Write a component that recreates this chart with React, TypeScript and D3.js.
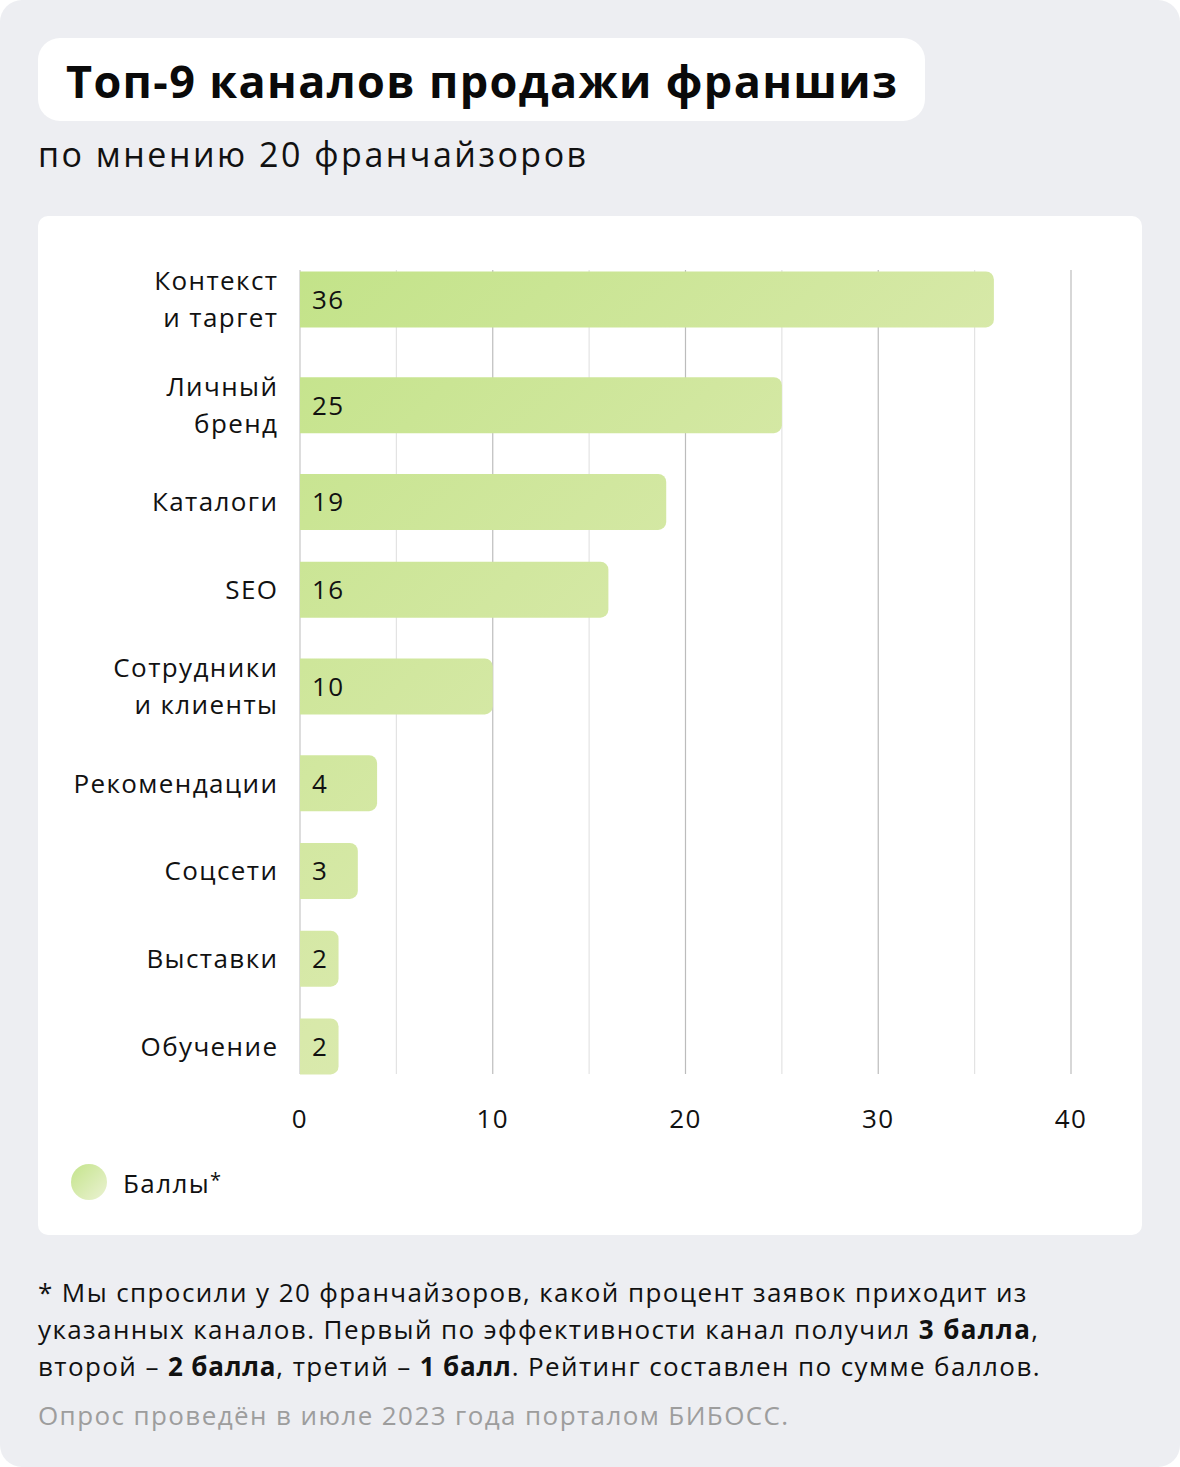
import React from "react";
import * as d3 from "d3";

const categories: string[][] = [
  ["Контекст", "и таргет"],
  ["Личный", "бренд"],
  ["Каталоги"],
  ["SEO"],
  ["Сотрудники", "и клиенты"],
  ["Рекомендации"],
  ["Соцсети"],
  ["Выставки"],
  ["Обучение"],
];
const values: number[] = [36, 25, 19, 16, 10, 4, 3, 2, 2];
const xTicks: number[] = [0, 10, 20, 30, 40];
const gridTicks: number[] = [0, 5, 10, 15, 20, 25, 30, 35, 40];

const title = "Топ-9 каналов продажи франшиз";
const subtitle = "по мнению 20 франчайзоров";
const legendLabel = "Баллы";

const FONT = "'Open Sans', 'Noto Sans', sans-serif";
const LS = 1.4;

export default function App() {
  const W = 1180;
  const H = 1467;
  const x = d3.scaleLinear().domain([0, 40]).range([300, 1071]);

  const baseRow = 87.75;
  const extra = 18;
  const heights = categories.map((c) => baseRow + extra * (c.length - 1));
  const starts: number[] = [];
  let acc = 246.5;
  heights.forEach((h) => {
    starts.push(acc);
    acc += h;
  });
  const centers = starts.map((s, i) => s + heights[i] / 2);
  const barH = 56;
  const r = 8;

  const barPath = (v: number, cy: number) => {
    const x0 = x(0);
    const x1 = x(v);
    const y0 = cy - barH / 2;
    const y1 = cy + barH / 2;
    const p = d3.path();
    p.moveTo(x0, y0);
    p.lineTo(x1 - r, y0);
    p.arcTo(x1, y0, x1, y0 + r, r);
    p.lineTo(x1, y1 - r);
    p.arcTo(x1, y1, x1 - r, y1, r);
    p.lineTo(x0, y1);
    p.closePath();
    return p.toString();
  };

  const nb = "\u00a0";

  return (
    <svg
      width={W}
      height={H}
      style={{ position: "absolute", left: 0, top: 0, display: "block" }}
      fontFamily={FONT}
    >
      <defs>
        <linearGradient
          id="barGrad"
          gradientUnits="userSpaceOnUse"
          x1={300}
          y1={270}
          x2={1000}
          y2={1000}
        >
          <stop offset="0" stopColor="#c3e389" />
          <stop offset="0.55" stopColor="#d8e9aa" />
          <stop offset="1" stopColor="#e3edc1" />
        </linearGradient>
        <linearGradient id="legGrad" x1="0" y1="0" x2="1" y2="1">
          <stop offset="0" stopColor="#c4e48b" />
          <stop offset="1" stopColor="#ebf2d3" />
        </linearGradient>
      </defs>
      <rect x={0} y={0} width={W} height={H} fill="#ffffff" />
      <rect x={0} y={0} width={W} height={H} rx={22} fill="#edeef2" />

      <rect x={38} y={38} width={887} height={83} rx={22} fill="#ffffff" />
      <text
        x={66}
        y={98}
        fontSize={45}
        fontWeight={700}
        fill="#0a0a0a"
        letterSpacing={1.35}
      >
        {title}
      </text>
      <text x={38} y={167} fontSize={34} fill="#111" letterSpacing={2.5}>
        {subtitle}
      </text>

      <rect x={38} y={216} width={1104} height={1019} rx={10} fill="#ffffff" />

      {gridTicks.map((t) => (
        <line
          key={t}
          x1={x(t)}
          x2={x(t)}
          y1={270}
          y2={1074}
          stroke={t === 0 ? "#c6c6c6" : t % 10 === 0 ? "#bcbcbc" : "#e3e3e3"}
          strokeWidth={1.2}
        />
      ))}

      {values.map((v, i) => (
        <path key={i} d={barPath(v, centers[i])} fill="url(#barGrad)" />
      ))}

      {values.map((v, i) => (
        <text
          key={"v" + i}
          x={x(0) + 12}
          y={centers[i] + 9.5}
          fontSize={26}
          fill="#111"
          letterSpacing={LS}
        >
          {v}
        </text>
      ))}

      {categories.map((lines, i) => (
        <text
          key={"c" + i}
          textAnchor="end"
          fontSize={26}
          fill="#111"
          letterSpacing={LS}
        >
          {lines.map((ln, j) => (
            <tspan
              key={j}
              x={277 + LS}
              y={centers[i] + 9.5 + (j - (lines.length - 1) / 2) * 37}
            >
              {ln}
            </tspan>
          ))}
        </text>
      ))}

      {xTicks.map((t) => (
        <text
          key={"t" + t}
          x={x(t)}
          y={1128}
          textAnchor="middle"
          fontSize={26}
          fill="#111"
          letterSpacing={LS}
        >
          {t}
        </text>
      ))}

      <circle cx={89} cy={1182} r={18} fill="url(#legGrad)" />
      <text x={123} y={1193} fontSize={26} fill="#111" letterSpacing={LS}>
        {legendLabel}
        <tspan fontSize={20} dy={-6}>*</tspan>
      </text>

      <g fontSize={26} fill="#111" letterSpacing={LS}>
        <text x={38} y={1302}>
          * Мы спросили у 20 франчайзоров, какой процент заявок приходит из
        </text>
        <text x={38} y={1339}>
          указанных каналов. Первый по эффективности канал получил{" "}
          <tspan fontWeight={700}>3 балла</tspan>,
        </text>
        <text x={38} y={1376}>
          {"второй" + nb + "– "}
          <tspan fontWeight={700} letterSpacing={0.8}>2 балла</tspan>
          {", третий" + nb + "– "}
          <tspan fontWeight={700} letterSpacing={0.8}>1 балл</tspan>. Рейтинг составлен по сумме баллов.
        </text>
        <text x={38} y={1425} fill="#9d9d9d">
          Опрос проведён в июле 2023 года порталом БИБОСС.
        </text>
      </g>
    </svg>
  );
}
